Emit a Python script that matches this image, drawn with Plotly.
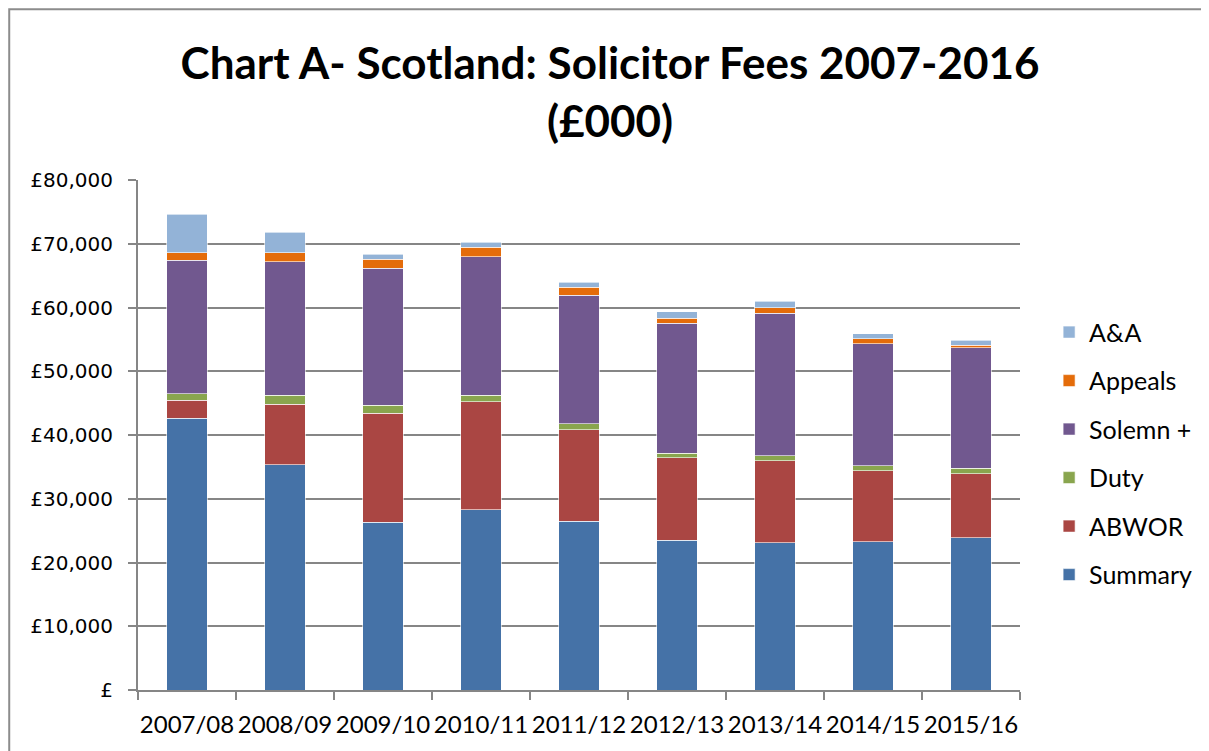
import plotly.graph_objects as go

years = ["2007/08", "2008/09", "2009/10", "2010/11", "2011/12", "2012/13", "2013/14", "2014/15", "2015/16"]
summary = [42640, 35370, 26310, 28300, 26470, 23490, 23120, 23280, 23910]
abwor = [2820, 9460, 17110, 16900, 14330, 12920, 12880, 11080, 10040]
duty = [990, 1370, 1210, 1000, 1000, 730, 780, 790, 840]
solemn = [20950, 20980, 21560, 21760, 20150, 20360, 22340, 19150, 18880]
appeals = [1190, 1410, 1360, 1470, 1210, 830, 830, 790, 430]
aa = [6070, 3250, 830, 790, 780, 1000, 1010, 780, 780]

series = [
    ("Summary", summary, "#4572A7"),
    ("ABWOR", abwor, "#AA4643"),
    ("Duty", duty, "#89A54E"),
    ("Solemn +", solemn, "#71588F"),
    ("Appeals", appeals, "#E46C0A"),
    ("A&A", aa, "#93B3D7"),
]

ytickvals = [0, 10000, 20000, 30000, 40000, 50000, 60000, 70000, 80000]
yticktext = ["£", "£10,000", "£20,000", "£30,000", "£40,000", "£50,000", "£60,000", "£70,000", "£80,000"]

font_family = "Lato, 'Open Sans', sans-serif"

fig = go.Figure()
n = len(series)
for i, (name, vals, color) in enumerate(series):
    fig.add_trace(go.Bar(
        x=years, y=vals, name=name, legendgroup=name, legendrank=n - i,
        marker=dict(color=color, line=dict(color="rgba(255,255,255,0.6)", width=1)),
    ))

fig.update_layout(
    width=1209, height=751,
    barmode="stack", bargap=0.59,
    paper_bgcolor="white", plot_bgcolor="white",
    margin=dict(l=130, r=197, t=172, b=69, autoexpand=False),
    font=dict(family=font_family, size=20, color="#000000"),
    title=dict(
        text="<b>Chart A- Scotland: Solicitor Fees 2007-2016<br>(£000)</b>",
        x=0.498, xref="container", xanchor="center",
        y=0.905, yref="container", yanchor="middle",
        font=dict(family=font_family, size=44, color="#000000"),
    ),
    legend=dict(
        traceorder="grouped", tracegroupgap=13,
        x=1.033, xanchor="left", y=0.464, yanchor="middle",
        font=dict(size=25), itemwidth=30,
    ),
    xaxis=dict(
        showline=True, linecolor="#868686", linewidth=2,
        ticks="outside", tickson="boundaries", ticklen=8, tickcolor="#868686", tickwidth=2,
        tickfont=dict(size=24), ticklabelstandoff=12, tickangle=0, automargin=False,
    ),
    yaxis=dict(
        range=[0, 80000], tickvals=ytickvals, ticktext=yticktext,
        showgrid=True, gridcolor="#868686", gridwidth=2,
        showline=True, linecolor="#868686", linewidth=2,
        ticks="outside", ticklen=8, tickcolor="#868686", tickwidth=2,
        tickfont=dict(size=20, family="DejaVu Sans"), ticklabelstandoff=11,
        zeroline=False, automargin=False,
    ),
    shapes=[dict(type="rect", xref="paper", yref="paper",
                 x0=-0.146, x1=1.3, y0=-0.2, y1=1.335,
                 line=dict(color="#8c8c8c", width=2), fillcolor="rgba(0,0,0,0)", layer="below")],
)

fig.write_html("out.html")
